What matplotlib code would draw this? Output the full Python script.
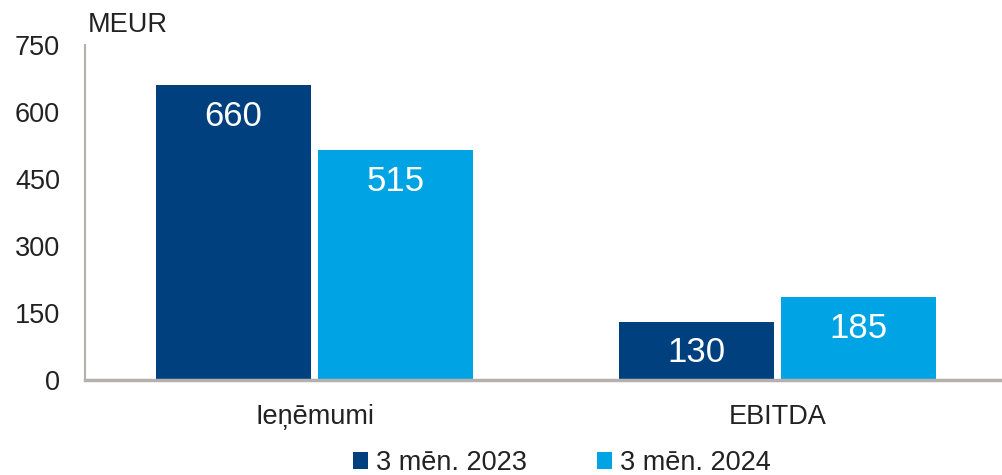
import numpy as np
import matplotlib.pyplot as plt

categories = ['Ieņēmumi', 'EBITDA']
series_names = ['3 mēn. 2023', '3 mēn. 2024']
values_2023 = [660, 130]
values_2024 = [515, 185]
colors = ['#00407f', '#00a4e4']

plt.rcParams['font.family'] = ['Liberation Sans', 'DejaVu Sans']

fig = plt.figure(figsize=(10.03, 4.75), dpi=100)
ax = fig.add_axes([85 / 1003, 0.2, 1 - 85 / 1003, 0.705])

x = np.arange(len(categories))
w = 0.335
gap = 0.0076
b1 = ax.bar(x - w / 2 - gap, values_2023, w, color=colors[0], label=series_names[0])
b2 = ax.bar(x + w / 2 + gap, values_2024, w, color=colors[1], label=series_names[1])

for bars in (b1, b2):
    for rect in bars:
        h = rect.get_height()
        ax.annotate(f'{h:.0f}', (rect.get_x() + rect.get_width() / 2, h),
                    xytext=(0, -31), textcoords='offset pixels',
                    ha='center', va='center', color='white', fontsize=25)

ax.set_xlim(-0.496, 1.487)
ax.set_ylim(0, 750)
ax.set_yticks([0, 150, 300, 450, 600, 750])
ax.set_xticks(x)
ax.set_xticklabels(categories, fontsize=19.5, color='#222222')
ax.tick_params(axis='y', length=0, labelsize=19.5, labelcolor='#222222', pad=18)
ax.tick_params(axis='x', length=0, pad=17)

for s in ['top', 'right']:
    ax.spines[s].set_visible(False)
ax.spines['left'].set_color('#b3b0ae')
ax.spines['left'].set_linewidth(1.5)
ax.spines['bottom'].set_color('#b3b0ae')
ax.spines['bottom'].set_linewidth(2.5)

fig.text(88 / 1003, 1 - 25 / 475, 'MEUR', fontsize=19.5, color='#222222', va='center', ha='left')

fig.legend(loc='center', bbox_to_anchor=(562 / 1003, 1 - 463 / 475), ncol=2, frameon=False,
           fontsize=19.5, handlelength=0.55, handleheight=0.55, handletextpad=0.3,
           columnspacing=2.6, labelcolor='#222222')

fig.savefig('out.png', dpi=100)
